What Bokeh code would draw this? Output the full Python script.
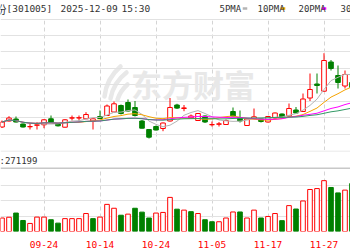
import pandas as pd
from bokeh.plotting import figure
from bokeh.layouts import column
from bokeh.models import (ColumnDataSource, Range1d, FixedTicker, Grid, LinearAxis,
                          Label, Span)
from bokeh.embed import file_html
from bokeh.resources import INLINE

# ---------------- data ----------------
stock_name = "超捷股份"
stock_code = "301005"
stamp_date = "2025-12-09"
stamp_time = "15:30"
last_volume = 271199

dates = ["09-16", "09-17", "09-18", "09-19", "09-22", "09-23", "09-24", "09-25", "09-26", "09-29",
         "09-30", "10-09", "10-10", "10-13", "10-14", "10-15", "10-16", "10-17", "10-20", "10-21",
         "10-22", "10-23", "10-24", "10-27", "10-28", "10-29", "10-30", "10-31", "11-03", "11-04",
         "11-05", "11-06", "11-07", "11-10", "11-11", "11-12", "11-13", "11-14", "11-17", "11-18",
         "11-19", "11-20", "11-21", "11-24", "11-25", "11-26", "11-27", "11-28", "12-01", "12-02",
         "12-03"]

opens = [54.70, 55.90, 56.30, 55.30, 54.74, 55.04, 55.14, 56.34, 55.34, 54.66,
         56.48, 56.50, 56.34, 55.86, 56.80, 57.00, 57.70, 59.00, 59.60, 58.60,
         55.90, 54.20, 54.80, 54.40, 55.90, 59.10, 58.40, 56.54, 56.00, 56.90,
         55.14, 55.24, 55.20, 57.80, 56.60, 55.00, 56.40, 56.34, 55.70, 56.50,
         57.30, 56.90, 58.10, 57.80, 60.50, 63.30, 61.86, 67.70, 65.00, 62.90,
         63.60]
highs = [56.00, 56.86, 56.80, 55.40, 55.30, 55.66, 56.30, 57.00, 55.50, 56.30,
         57.00, 57.00, 57.66, 56.50, 58.00, 59.20, 59.80, 59.20, 60.20, 59.90,
         56.10, 54.30, 55.00, 55.60, 60.50, 59.34, 59.10, 57.20, 57.50, 57.00,
         55.80, 55.70, 56.20, 58.60, 58.00, 56.40, 58.40, 56.50, 56.90, 57.60,
         57.40, 59.40, 58.70, 61.40, 65.40, 65.40, 69.46, 68.10, 67.00, 66.00,
         64.40]
lows = [54.50, 55.80, 55.60, 54.60, 54.20, 54.20, 54.46, 55.60, 54.80, 54.60,
        56.00, 55.86, 56.30, 54.20, 56.30, 56.90, 57.60, 57.20, 57.80, 56.80,
        54.40, 52.40, 54.00, 53.86, 55.80, 58.30, 57.86, 56.40, 55.90, 55.50,
        54.80, 54.80, 55.10, 56.80, 55.60, 54.90, 56.30, 55.60, 55.60, 56.40,
        56.50, 56.80, 57.30, 57.70, 59.90, 61.40, 61.80, 66.00, 62.40, 62.40,
        62.00]
closes = [55.70, 56.50, 55.70, 54.70, 54.80, 55.14, 56.14, 55.66, 54.94, 56.14,
          56.54, 56.56, 57.20, 56.34, 56.40, 58.90, 59.34, 57.40, 57.90, 57.00,
          54.46, 52.66, 54.10, 55.50, 58.60, 58.48, 58.52, 56.90, 57.40, 55.70,
          55.20, 55.34, 56.00, 56.90, 55.90, 56.30, 56.74, 55.80, 56.80, 57.50,
          56.70, 58.40, 57.50, 60.30, 62.20, 63.00, 68.00, 66.40, 63.60, 65.20,
          62.60]
volumes = [87000, 92000, 119000, 71000, 52000, 93000, 93000, 76000, 54000, 83000,
           83000, 83000, 116000, 83000, 93000, 175000, 150000, 105000, 112000, 150000,
           125000, 87000, 119000, 123000, 220000, 144000, 138000, 128000, 116000, 76000,
           63000, 63000, 87000, 126000, 126000, 87000, 138000, 87000, 97000, 116000,
           70000, 167000, 145000, 197000, 271000, 277000, 328000, 284000, 249000, 267000,
           309000]
volume_up = [1, 1, 0, 0, 1, 1, 1, 0, 0, 1,
             1, 1, 1, 0, 1, 1, 1, 0, 1, 0,
             0, 0, 1, 1, 1, 0, 1, 0, 1, 0,
             0, 1, 1, 1, 0, 1, 1, 0, 1, 1,
             0, 1, 0, 1, 1, 1, 1, 0, 0, 1,
             0]
ma_periods = [5, 10, 20, 30]
ma_colors = ["#b4b4b4", "#f5a300", "#ff00ff", "#339966"]
label_every = 8
label_offset = 6

# ---------------- styling ----------------
W = 350
CJK = "Noto Sans CJK SC"
MONO = "DejaVu Sans Mono"
UP = "#ff0000"
DOWN = "#008000"
HGRID = "#e2e2e2"
VGRID = "#d4d4d4"
WATERMARK = "#e8e8e8"

idx = list(range(len(dates)))
tick_idx = [i for i in idx if i % label_every == label_offset]
tick_labels = {i: dates[i] for i in tick_idx}

xr = Range1d(-1.5 / 7, 348.5 / 7)


def px_x(px):
    """screen x of the price panel -> candle index units"""
    return (px - 1.5) / 7


def px_y(py):
    """screen y (page pixels) of the price panel -> price units"""
    return 80 - py / 5


def base(height, x_range, y_range, **kw):
    p = figure(width=W, height=height, x_range=x_range, y_range=y_range,
               x_axis_type=None, y_axis_type=None, toolbar_location=None,
               output_backend="svg", min_border=0, outline_line_color=None, **kw)
    return p


# ---------------- header ----------------
h = base(20, Range1d(0, W), Range1d(20, 0))
h.add_layout(Span(location=19.5, dimension="width", line_color="#c4c4c4", line_width=1))
h.add_layout(Label(x=6, y=8, text=stock_name, text_align="right", text_baseline="middle",
                   text_font=CJK, text_font_size="11px", text_color="#333333"))
h.add_layout(Label(x=6, y=8, text=f"[{stock_code}]", text_align="left", text_baseline="middle",
                   text_font=MONO, text_font_size="9.5px", text_color="#333333"))
h.add_layout(Label(x=60, y=8, text=stamp_date, text_align="left", text_baseline="middle",
                   text_font=MONO, text_font_size="9.5px", text_color="#333333"))
h.add_layout(Label(x=121, y=8, text=stamp_time, text_align="left", text_baseline="middle",
                   text_font=MONO, text_font_size="9.5px", text_color="#333333"))
leg_x = [219, 257, 298, 340]
for n, lx in zip(ma_periods, leg_x):
    h.add_layout(Label(x=lx, y=8, text=f"{n}PMA", text_align="left", text_baseline="middle",
                       text_font=MONO, text_font_size="9px", text_color="#333333"))
leg_src = ColumnDataSource(dict(x=[lx + 25.5 for lx in leg_x], y=[8] * 4, c=ma_colors))
h.rect(x="x", y="y", width=4.5, height=2.5, fill_color="c", line_color=None, source=leg_src)

# ---------------- price panel ----------------
m = base(130, xr, Range1d(50, 76))
m.add_layout(Grid(dimension=0, ticker=FixedTicker(ticks=tick_idx),
                  grid_line_color=VGRID, grid_line_dash="4 3"))
m.add_layout(Grid(dimension=1, ticker=FixedTicker(ticks=[round(50 + 3.3 * k, 1) for k in range(1, 8)]),
                  grid_line_color=HGRID))

# watermark: logo feathers + brand text
feathers = [((104, 96), (106, 78), (120, 66)),
            ((110, 98), (113, 82), (126, 72)),
            ((117, 99), (120, 90), (127, 84))]
m.quadratic(x0=[px_x(a[0]) for a, _, _ in feathers], y0=[px_y(a[1]) for a, _, _ in feathers],
            x1=[px_x(c[0]) for _, _, c in feathers], y1=[px_y(c[1]) for _, _, c in feathers],
            cx=[px_x(q[0]) for _, q, _ in feathers], cy=[px_y(q[1]) for _, q, _ in feathers],
            line_color=WATERMARK, line_width=4.5, line_cap="round", level="underlay")
m.add_layout(Label(x=px_x(192.5), y=px_y(82.5), text="东方财富", text_align="center",
                   text_baseline="middle", text_font=CJK, text_font_style="bold",
                   text_font_size="31px", text_color=WATERMARK, level="underlay"))

up = [c >= o for o, c in zip(opens, closes)]
csrc = ColumnDataSource(dict(
    x=idx, h=highs, l=lows,
    top=[max(o, c) for o, c in zip(opens, closes)],
    bottom=[min(o, c) for o, c in zip(opens, closes)],
    line=[UP if u else DOWN for u in up],
    fill=["#ffffff" if u else DOWN for u in up],
))
m.segment(x0="x", y0="h", x1="x", y1="l", line_color="line", line_width=1, source=csrc)
m.vbar(x="x", width=0.66, top="top", bottom="bottom", fill_color="fill",
       line_color="line", line_width=1, source=csrc)

cs = pd.Series(closes)
for n, col in zip(ma_periods, ma_colors):
    ma = cs.rolling(n, min_periods=1).mean()
    m.line(idx, ma.tolist(), line_color=col, line_width=1)

# ---------------- volume label band ----------------
b = base(19, Range1d(0, W), Range1d(19, 0))
b.add_layout(Span(location=0.5, dimension="width", line_color=HGRID, line_width=1))
b.add_layout(Span(location=18, dimension="width", line_color="#c8c8c8", line_width=2))
b.add_layout(Label(x=-1, y=10, text=f":{last_volume}", text_align="left", text_baseline="middle",
                   text_font=MONO, text_font_size="9px", text_color="#333333"))

# ---------------- volume panel ----------------
v = base(81, xr, Range1d(0, 400000), min_border_bottom=18)
v.add_layout(Grid(dimension=0, ticker=FixedTicker(ticks=tick_idx),
                  grid_line_color=VGRID, grid_line_dash="4 3"))
v.add_layout(Grid(dimension=1, ticker=FixedTicker(ticks=[100000, 200000, 300000]),
                  grid_line_color=HGRID))
vsrc = ColumnDataSource(dict(
    x=idx, vol=volumes,
    line=[UP if u else DOWN for u in volume_up],
    fill=["#ffffff" if u else DOWN for u in volume_up],
))
v.vbar(x="x", width=0.66, top="vol", bottom=0, fill_color="fill", line_color="line",
       line_width=1, source=vsrc)
ax = LinearAxis(ticker=FixedTicker(ticks=tick_idx), major_label_overrides=tick_labels,
                axis_line_color=None, major_tick_line_color=None, minor_tick_line_color=None,
                major_label_text_color="#ff0000", major_label_text_font=MONO,
                major_label_text_font_size="9.5px", major_label_standoff=3)
v.add_layout(ax, "below")

layout = column(h, m, b, v, spacing=0)
open("out.html", "w").write(file_html(layout, INLINE))
